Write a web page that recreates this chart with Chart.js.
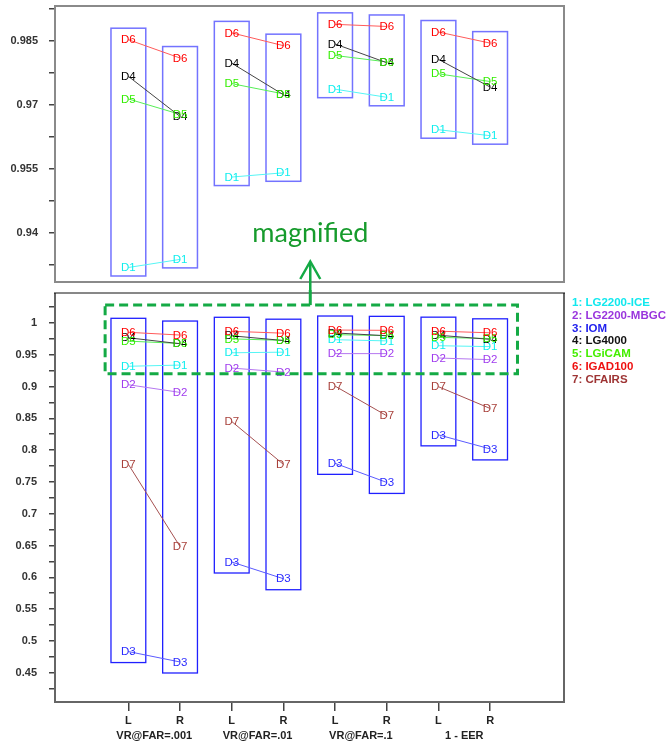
<!DOCTYPE html>
<html>
<head>
<meta charset="utf-8">
<script src="https://cdn.jsdelivr.net/npm/chart.js@4.4.1/dist/chart.umd.min.js"></script>
<style>
html,body{margin:0;padding:0;background:#fff;}
#wrap{position:relative;width:670px;height:746px;overflow:hidden;background:#fff;}
#c1{position:absolute;left:0;top:0;}
#c2{position:absolute;left:0;top:290px;}
#legend{position:absolute;left:572px;top:296px;font:bold 11.5px "Liberation Sans",Arial,sans-serif;line-height:12.8px;white-space:nowrap;}
</style>
</head>
<body>
<div id="wrap">
<canvas id="c1" width="670" height="290"></canvas>
<canvas id="c2" width="670" height="456"></canvas>
<div id="legend"></div>
</div>
<script>
// ---------- DATA ----------
const categories = ['L','R','L','R','L','R','L','R'];
const positions = [1,2,3,4,5,6,7,8];
const groups = ['VR@FAR=.001','VR@FAR=.01','VR@FAR=.1','1 - EER'];
const groupPositions = [1.5,3.5,5.5,7.5];

const seriesCodes = ['D1','D2','D3','D4','D5','D6','D7'];
const seriesNames = ['LG2200-ICE','LG2200-MBGC','IOM','LG4000','LGiCAM','IGAD100','CFAIRS'];

const d1_LG2200_ICE  = [0.9318,0.9337,0.9530,0.9540,0.9736,0.9717,0.9641,0.9627];
const d2_LG2200_MBGC = [0.9028,0.8907,0.9290,0.9227,0.9517,0.9517,0.9448,0.9422];
const d3_IOM         = [0.4833,0.4669,0.6241,0.5978,0.7792,0.7492,0.8240,0.8019];
const d4_LG4000      = [0.9766,0.9672,0.9797,0.9723,0.9842,0.9798,0.9806,0.9741];
const d5_LGiCAM      = [0.9713,0.9677,0.9749,0.9725,0.9815,0.9800,0.9772,0.9754];
const d6_IGAD100     = [0.9852,0.9809,0.9868,0.9838,0.9888,0.9883,0.9870,0.9844];
const d7_CFAIRS      = [0.7776,0.6483,0.8450,0.7776,0.9006,0.8540,0.8997,0.8655];
const seriesValues = [d1_LG2200_ICE,d2_LG2200_MBGC,d3_IOM,d4_LG4000,d5_LGiCAM,d6_IGAD100,d7_CFAIRS];

const magnifiedSeries = [0,3,4,5]; // D1, D4, D5, D6 shown in the magnified panel

const topTickValues = [0.9325,0.94,0.9475,0.955,0.9625,0.97,0.9775,0.985,0.9925];
const topTickLabelValues = [0.94,0.955,0.97,0.985];
const topTickLabels = ['0.94','0.955','0.97','0.985'];

const bottomTickValues = [0.425,0.45,0.475,0.5,0.525,0.55,0.575,0.6,0.625,0.65,0.675,0.7,0.725,0.75,0.775,0.8,0.825,0.85,0.875,0.9,0.925,0.95,0.975,1,1.025];
const bottomTickLabelValues = [0.45,0.5,0.55,0.6,0.65,0.7,0.75,0.8,0.85,0.9,0.95,1];
const bottomTickLabels = ['0.45','0.5','0.55','0.6','0.65','0.7','0.75','0.8','0.85','0.9','0.95','1'];

// ---------- STYLE ----------
const textColors = ['#10EEEE','#A03CEE','#2A2AFF','#000000','#33EE00','#FF0000','#A8403A'];
const lineColors = ['#55F5F5','#B577F0','#5A5AFF','#444444','#55EE55','#FF5A5A','#A55050'];
const legendColors = ['#10E8EE','#9A35DD','#2222EE','#111111','#44EE00','#EE1111','#9E3434'];
const annotColor = '#14AA45';
const labelFont = '11.5px "Liberation Sans", Arial, sans-serif';
const axisFont = {family:'"Liberation Sans", Arial, sans-serif', size:11, weight:'bold'};

function makeDatasets(idx){
  return idx.map(i => ({
    label: seriesNames[i],
    code: seriesCodes[i],
    textColor: textColors[i],
    data: positions.map((p,k)=>({x:p, y:seriesValues[i][k]})),
    borderColor: lineColors[i],
    borderWidth: 1,
    pointRadius: 0,
    fill: false,
    tension: 0,
    segment: { borderColor: ctx => (ctx.p0DataIndex % 2 === 0 ? lineColors[i] : 'rgba(0,0,0,0)') }
  }));
}

function labelFor(values, labels){
  return function(v){
    for (let k=0;k<values.length;k++) if (Math.abs(values[k]-v)<1e-7) return labels[k];
    return '';
  };
}

const boxPlugin = {
  id:'boxes',
  beforeDatasetsDraw(chart, args, opts){
    const ctx = chart.ctx, xs = chart.scales.x;
    ctx.save();
    ctx.strokeStyle = opts.color; ctx.lineWidth = opts.width;
    positions.forEach((p,j)=>{
      let mn=Infinity, mx=-Infinity;
      chart.data.datasets.forEach((ds,i)=>{
        const pt = chart.getDatasetMeta(i).data[j];
        mn = Math.min(mn, pt.y); mx = Math.max(mx, pt.y);
      });
      const cx = xs.getPixelForValue(p);
      ctx.strokeRect(cx-17.4, mn-opts.padTop, 34.8, mx-mn+opts.padTop+opts.padBottom);
    });
    ctx.restore();
  }
};

const labelPlugin = {
  id:'dlabels',
  afterDatasetsDraw(chart){
    const ctx = chart.ctx, area = chart.chartArea;
    ctx.save();
    ctx.font = labelFont; ctx.textAlign='center'; ctx.textBaseline='middle';
    chart.data.datasets.forEach((ds,i)=>{
      ctx.fillStyle = ds.textColor;
      chart.getDatasetMeta(i).data.forEach(pt=>{
        if (pt.y < area.top || pt.y > area.bottom) return;
        ctx.fillText(ds.code, pt.x, pt.y+0.5);
      });
    });
    ctx.restore();
  }
};

const framePlugin = {
  id:'frame',
  afterDraw(chart, args, opts){
    const ctx = chart.ctx, a = chart.chartArea;
    ctx.save();
    ctx.lineWidth = 2;
    ctx.strokeStyle = opts.side;
    ctx.beginPath();
    ctx.moveTo(a.left, a.top); ctx.lineTo(a.left, a.bottom); ctx.lineTo(a.right, a.bottom); ctx.lineTo(a.right, a.top);
    ctx.stroke();
    ctx.strokeStyle = opts.topColor; ctx.lineWidth = opts.topWidth;
    ctx.beginPath(); ctx.moveTo(a.left-1, a.top); ctx.lineTo(a.right+1, a.top); ctx.stroke();
    ctx.restore();
  }
};

const topAnnotPlugin = {
  id:'topAnnot',
  afterDraw(chart){
    const ctx = chart.ctx;
    const ax = chart.scales.x.getPixelForValue(4.52);
    ctx.save();
    ctx.fillStyle = '#169B2C';
    ctx.font = '27px Lato, "Open Sans", sans-serif';
    ctx.textAlign = 'center'; ctx.textBaseline = 'alphabetic';
    ctx.fillText('magnified', ax, 241.5);
    ctx.strokeStyle = annotColor; ctx.lineWidth = 2.5;
    ctx.beginPath(); ctx.moveTo(ax, 262); ctx.lineTo(ax, 290); ctx.stroke();
    ctx.beginPath(); ctx.moveTo(ax-10, 279); ctx.lineTo(ax, 261.5); ctx.lineTo(ax+10, 279); ctx.stroke();
    ctx.restore();
  }
};

const bottomAnnotPlugin = {
  id:'bottomAnnot',
  afterDraw(chart){
    const ctx = chart.ctx, xs = chart.scales.x, ys = chart.scales.y;
    const ax = xs.getPixelForValue(4.52);
    const l = xs.getPixelForValue(0.55), r = xs.getPixelForValue(8.53);
    const t = ys.getPixelForValue(1.028), b = ys.getPixelForValue(0.92);
    ctx.save();
    ctx.strokeStyle = annotColor; ctx.lineWidth = 3;
    ctx.beginPath(); ctx.moveTo(ax, 0); ctx.lineTo(ax, t); ctx.stroke();
    ctx.setLineDash([9,5]);
    ctx.strokeRect(l, t, r-l, b-t);
    ctx.restore();
  }
};

function yScale(min, max, tickVals, lblVals, lbls, pad){
  return {
    type:'linear', position:'left', min, max,
    afterBuildTicks: s => { s.ticks = tickVals.map(v=>({value:v})); },
    afterFit: s => { s.width = 55; s.paddingTop = 0; s.paddingBottom = 0; },
    ticks:{ autoSkip:false, callback: labelFor(lblVals, lbls), font: axisFont, color:'#333', padding: pad },
    grid:{ display:true, drawOnChartArea:false, drawTicks:true, tickLength:6, color:'#444', lineWidth:1.5 },
    border:{ display:false }
  };
}

const xMin = -0.42, xMax = 9.43;

// ---------- TOP (magnified) ----------
new Chart(document.getElementById('c1'), {
  type:'line',
  data:{ datasets: makeDatasets(magnifiedSeries) },
  options:{
    responsive:false, animation:false, events:[],
    layout:{ padding:{ left:0, right:106, top:6, bottom:8 } },
    plugins:{ legend:{display:false}, tooltip:{enabled:false},
      boxes:{ color:'#7373FF', width:1.5, padTop:11.5, padBottom:8.5 },
      frame:{ side:'#8A8A8A', topColor:'#8A8A8A', topWidth:2 } },
    scales:{
      x:{ type:'linear', min:xMin, max:xMax, display:false },
      y: yScale(0.9284, 0.9931, topTickValues, topTickLabelValues, topTickLabels, 11)
    }
  },
  plugins:[boxPlugin, labelPlugin, framePlugin, topAnnotPlugin]
});

// ---------- BOTTOM (full) ----------
new Chart(document.getElementById('c2'), {
  type:'line',
  data:{ datasets: makeDatasets([0,1,2,3,4,5,6]) },
  options:{
    responsive:false, animation:false, events:[],
    layout:{ padding:{ left:0, right:106, top:3, bottom:0 } },
    plugins:{ legend:{display:false}, tooltip:{enabled:false},
      boxes:{ color:'#2020FF', width:1.3, padTop:14, padBottom:11 },
      frame:{ side:'#666', topColor:'#111', topWidth:1 } },
    scales:{
      x:{ type:'linear', position:'bottom', weight:0, min:xMin, max:xMax,
          afterBuildTicks: s => { s.ticks = positions.map(v=>({value:v})); },
          afterFit: s => { s.height = 24; s.paddingLeft = 0; s.paddingRight = 0; },
          ticks:{ autoSkip:false, maxRotation:0, font: axisFont, color:'#222', padding:3,
                  callback: labelFor(positions, categories) },
          grid:{ display:true, drawOnChartArea:false, drawTicks:true, tickLength:9, color:'#444', lineWidth:1.5 },
          border:{ display:false } },
      x2:{ type:'linear', position:'bottom', weight:1, min:xMin, max:xMax,
          afterBuildTicks: s => { s.ticks = groupPositions.map(v=>({value:v})); },
          afterFit: s => { s.height = 20; s.paddingLeft = 0; s.paddingRight = 0; },
          ticks:{ autoSkip:false, maxRotation:0, font: axisFont, color:'#222', padding:3.5,
                  callback: labelFor(groupPositions, groups) },
          grid:{ display:false, drawTicks:false, tickLength:0 },
          border:{ display:false } },
      y: yScale(0.404, 1.047, bottomTickValues, bottomTickLabelValues, bottomTickLabels, 12)
    }
  },
  plugins:[boxPlugin, labelPlugin, framePlugin, bottomAnnotPlugin]
});

// ---------- LEGEND ----------
const lg = document.getElementById('legend');
seriesNames.forEach((n,i)=>{
  const d = document.createElement('div');
  d.textContent = (i+1) + ': ' + n;
  d.style.color = legendColors[i];
  lg.appendChild(d);
});
</script>
</body>
</html>
